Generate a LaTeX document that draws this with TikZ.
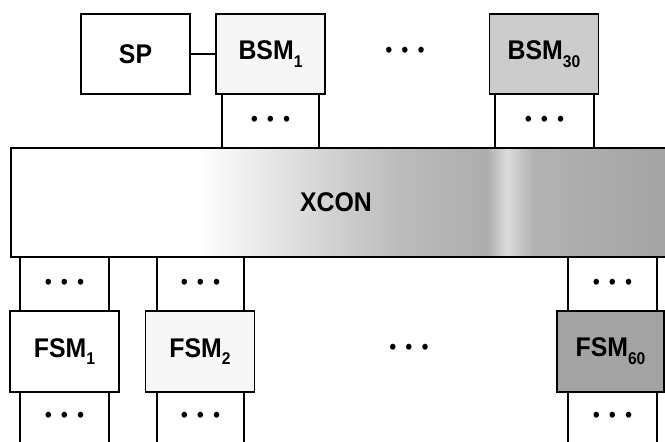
\documentclass[tikz,border=0pt]{standalone}
\usepackage{fontspec}
\setmainfont{Liberation Sans}[FakeStretch=0.92]
\newcommand{\lowidx}[1]{\raisebox{-0.55ex}{\fontsize{17}{17}\selectfont #1}}
\newcommand{\threedots}{•\hspace{9pt}•\hspace{9pt}•}
\pgfdeclarehorizontalshading{xconshade}{100bp}{color(0bp)=(white); color(25bp)=(white); color(39bp)=(white); color(46bp)=(black!12); color(54bp)=(black!26); color(61bp)=(black!32); color(62.5bp)=(black!14); color(64.5bp)=(black!30); color(75bp)=(black!36); color(100bp)=(black!36)}
\begin{document}
\begin{tikzpicture}[x=1pt,y=-1pt,
  ln/.style={line width=1.5pt},
  box/.style={ln, draw, minimum width=109pt, minimum height=80pt, inner sep=0pt,
    font=\fontsize{27}{27}\selectfont\bfseries},
  stub/.style={draw=none, minimum height=54pt, inner sep=0pt, font=\fontsize{22}{22}\selectfont},
  dotsnode/.style={inner sep=0pt, font=\fontsize{22}{22}\selectfont}]
\useasboundingbox (0,0) rectangle (665,442);
% top row
\node[box, fill=white] (sp) at (135.5,54) {SP};
\node[box, fill=black!4] (bsm1) at (270.5,54) {BSM\lowidx{1}};
\node[dotsnode] (topdots) at (405,52) {\threedots};
\node[box, fill=black!20] (bsm30) at (544,54) {BSM\lowidx{30}};
\draw[ln] (sp.east) -- (bsm1.west);
% XCON
\node[ln, draw, shading=xconshade, minimum width=661pt, minimum height=109pt] (xcon) at (341.5,202.5) {};
\node[font=\fontsize{27}{27}\selectfont\bfseries] (xconlabel) at (336,202.5) {XCON};
% top stubs
\node[stub, minimum width=97pt] (s1) at (270.5,121) {\threedots};
\node[stub, minimum width=99pt] (s30) at (544.5,121) {\threedots};
% bottom row boxes
\node[box, minimum height=81pt, fill=white] (fsm1) at (64.5,351.5) {FSM\lowidx{1}};
\node[box, minimum height=81pt, fill=black!3] (fsm2) at (200,351.5) {FSM\lowidx{2}};
\node[dotsnode] (middots) at (409,349) {\threedots};
\node[box, minimum height=81pt, minimum width=107pt, fill=black!36] (fsm60) at (610.5,351.5) {FSM\lowidx{60}};
% bottom stubs (upper)
\node[stub, minimum width=89pt] (u1) at (64.5,284) {\threedots};
\node[stub, minimum width=87pt] (u2) at (200.5,284) {\threedots};
\node[stub, minimum width=89pt] (u60) at (612.5,284) {\threedots};
% bottom stubs (lower)
\node[stub, minimum width=89pt, minimum height=50pt] (l1) at (64.5,417) {\threedots};
\node[stub, minimum width=87pt, minimum height=50pt] (l2) at (200.5,417) {\threedots};
\node[stub, minimum width=89pt, minimum height=50pt] (l60) at (612.5,417) {\threedots};
\foreach \n in {s1,s30,u1,u2,u60,l1,l2,l60}
  \draw[ln] (\n.north west) -- (\n.south west) (\n.north east) -- (\n.south east);
\end{tikzpicture}
\end{document}
